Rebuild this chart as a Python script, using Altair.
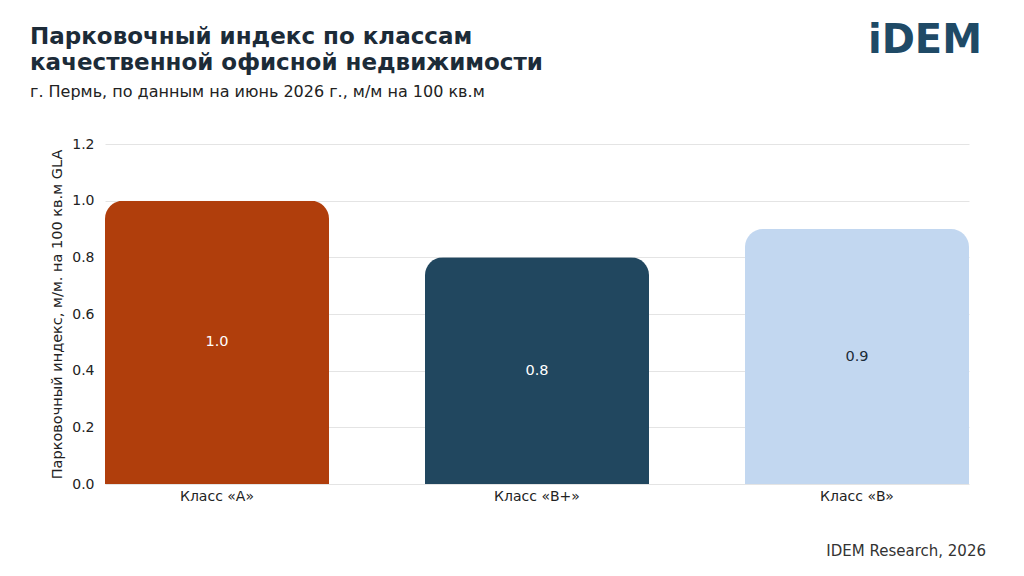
import altair as alt
import pandas as pd

# ---- data ----
categories = ["Класс «A»", "Класс «B+»", "Класс «B»"]
values = [1.0, 0.8, 0.9]
y_ticks = [0.0, 0.2, 0.4, 0.6, 0.8, 1.0, 1.2]

title_lines = ["Парковочный индекс по классам", "качественной офисной недвижимости"]
subtitle = "г. Пермь, по данным на июнь 2026 г., м/м на 100 кв.м"
y_title = "Парковочный индекс, м/м. на 100 кв.м GLA"
source = "IDEM Research, 2026"
logo = "iDEM"

# ---- styles ----
bar_colors = ["#B03E0C", "#21475F", "#C2D7F0"]
FONT = "DejaVu Sans"
DARK = "#1C2B38"

df = pd.DataFrame({"cls": categories, "val": values})
df["lbl"] = [f"{v:.1f}" for v in values]

W, H = 864, 340

base = alt.Chart(df)

bars = base.mark_bar(cornerRadiusTopLeft=18, cornerRadiusTopRight=18).encode(
    x=alt.X("cls:N", sort=categories, title=None,
            scale=alt.Scale(paddingInner=0.3, paddingOuter=0),
            axis=alt.Axis(labelAngle=0, labelFontSize=14, labelColor="#222222",
                          labelFont=FONT, labelPadding=5, ticks=False, domain=False)),
    y=alt.Y("val:Q", title=y_title,
            scale=alt.Scale(domain=[0, 1.2]),
            axis=alt.Axis(values=y_ticks, format=".1f", labelFontSize=14,
                          labelColor="#222222", labelFont=FONT, labelPadding=11,
                          ticks=False, domain=False, gridColor="#E4E4E4",
                          titleFontSize=14.5, titleFont=FONT, titleColor="#222222",
                          titleFontWeight="normal", titlePadding=7)),
    color=alt.Color("cls:N", sort=categories,
                    scale=alt.Scale(domain=categories, range=bar_colors), legend=None),
)

labels = base.transform_calculate(mid="datum.val / 2").mark_text(
    fontSize=14.5, font=FONT, baseline="middle", align="center"
).encode(
    x=alt.X("cls:N", sort=categories),
    y=alt.Y("mid:Q"),
    text="lbl:N",
    color=alt.condition(alt.datum.cls == categories[2], alt.value("#1C2B38"), alt.value("#FFFFFF")),
)

t1 = alt.Chart(pd.DataFrame({"t": [title_lines[0]]})).mark_text(
    font=FONT, fontSize=23, fontWeight="bold", color=DARK, align="left", baseline="alphabetic"
).encode(x=alt.value(-75), y=alt.value(-100), text="t:N")
t2 = alt.Chart(pd.DataFrame({"t": [title_lines[1]]})).mark_text(
    font=FONT, fontSize=23, fontWeight="bold", color=DARK, align="left", baseline="alphabetic"
).encode(x=alt.value(-75), y=alt.value(-74), text="t:N")
st = alt.Chart(pd.DataFrame({"t": [subtitle]})).mark_text(
    font=FONT, fontSize=16, color="#222222", align="left", baseline="alphabetic"
).encode(x=alt.value(-75), y=alt.value(-47), text="t:N")
lg = alt.Chart(pd.DataFrame({"t": [logo]})).mark_text(
    font=FONT, fontSize=40, fontWeight="bold", color="#1F4A66", align="right", baseline="alphabetic"
).encode(x=alt.value(877), y=alt.value(-91), text="t:N")
src = alt.Chart(pd.DataFrame({"t": [source]})).mark_text(
    font=FONT, fontSize=15, color="#333333", align="right", baseline="alphabetic"
).encode(x=alt.value(881), y=alt.value(412), text="t:N")

chart = alt.layer(bars, labels, t1, t2, st, lg, src).properties(
    width=W, height=H,
    background="#FFFFFF",
    autosize=alt.AutoSizeParams(type="none"),
    padding={"left": 97, "top": 136, "right": 47, "bottom": 84},
).configure_view(stroke=None)

chart.save("out.html", embed_options={"renderer": "svg", "actions": False})
